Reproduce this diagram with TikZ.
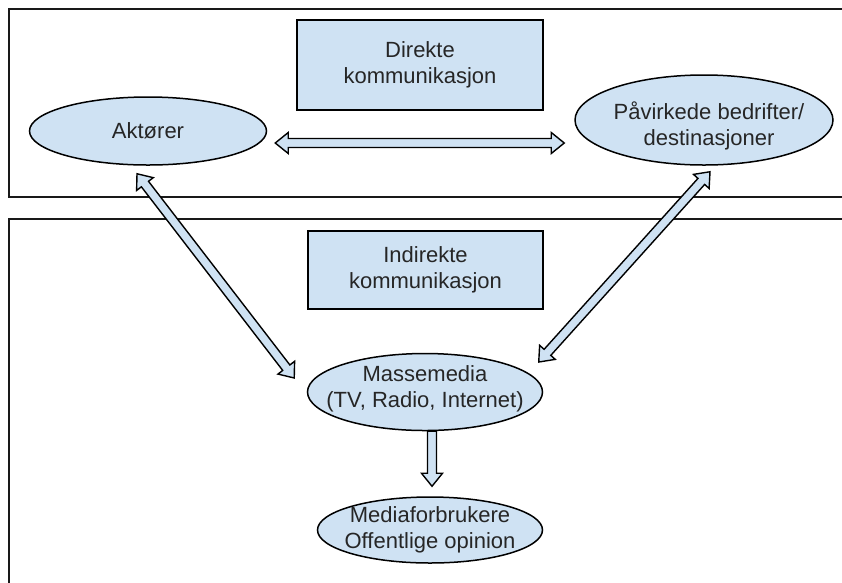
\documentclass[tikz,border=0pt]{standalone}
\usepackage{fontspec}
\setmainfont{Liberation Sans}
\usetikzlibrary{calc,shapes.geometric}
\definecolor{paleblue}{HTML}{CFE2F3}
\newcommand{\shaft}{4.5pt}
\newcommand{\headw}{10.5pt}
\newcommand{\headl}{13pt}
\tikzset{
  txt/.style={font=\fontsize{22}{26}\selectfont, text=black!85, align=center},
  box/.style={draw, line width=1.5pt, fill=paleblue, rectangle, txt, inner sep=0pt},
  oval/.style={draw, line width=1.5pt, fill=paleblue, ellipse, inner sep=0pt},
  tube/.style={draw, line width=1.4pt, fill=paleblue, line join=miter},
  frame/.style={line width=1.8pt, black!90}
}
% block arrow with two heads
\newcommand{\twoway}[2]{%
\path[tube] let \p1=(#1), \p2=(#2), \n1={atan2(\y2-\y1,\x2-\x1)}, \n2={veclen(\x2-\x1,\y2-\y1)} in
  [shift={(\x1,\y1)}, rotate=\n1]
  (0pt,0pt) -- (\headl,\headw) -- (\headl,\shaft) -- (\n2-\headl,\shaft) -- (\n2-\headl,\headw)
  -- (\n2,0pt) -- (\n2-\headl,-\headw) -- (\n2-\headl,-\shaft) -- (\headl,-\shaft) -- (\headl,-\headw) -- cycle;}
% block arrow with one head
\newcommand{\oneway}[2]{%
\path[tube] let \p1=(#1), \p2=(#2), \n1={atan2(\y2-\y1,\x2-\x1)}, \n2={veclen(\x2-\x1,\y2-\y1)} in
  [shift={(\x1,\y1)}, rotate=\n1]
  (0pt,\shaft) -- (\n2-\headl,\shaft) -- (\n2-\headl,\headw) -- (\n2,0pt)
  -- (\n2-\headl,-\headw) -- (\n2-\headl,-\shaft) -- (0pt,-\shaft) -- cycle;}

\begin{document}
\begin{tikzpicture}[x=1pt, y=-1pt]
\useasboundingbox (0,0) rectangle (842,582);
\clip (0,0) rectangle (842,582);
\fill[white] (0,0) rectangle (842,582);
%frames
\draw[frame] (850,9) -- (9,9) -- (9,197) -- (850,197);
\draw[frame] (850,219) -- (9,219) -- (9,590);
%direkte
\node[box, minimum width=246pt, minimum height=90pt] (direkte) at (420,65) {Direkte\\kommunikasjon};
\node[oval, minimum width=237pt, minimum height=68pt, label={[txt]center:Aktører}] (akt) at (148,131) {};
\node[oval, minimum width=258pt, minimum height=90pt, label={[txt, xshift=5pt, yshift=-6pt]center:Påvirkede bedrifter/\\destinasjoner}] (pav) at (704,120) {};
%indirekte
\node[box, minimum width=235pt, minimum height=78pt] (indirekte) at (425.5,270) {Indirekte\\kommunikasjon};
\node[oval, minimum width=235pt, minimum height=77pt, label={[txt, yshift=3pt]center:Massemedia\\(TV, Radio, Internet)}] (mm) at (425,392) {};
\node[oval, minimum width=225pt, minimum height=66pt, label={[txt]center:Mediaforbrukere\\Offentlige opinion}] (mf) at (430,530) {};
%arrows
\twoway{$(akt.east)+(8,12)$}{$(pav.west)+(-10,23)$}
\twoway{$(akt.south)+(-11,8)$}{$(mm.west)+(-12.5,-14)$}
\twoway{$(pav.south)+(6,6)$}{$(mm.east)+(-4.5,-30)$}
\oneway{$(mm.south)+(7,0)$}{$(mf.north)+(2,-10)$}
\end{tikzpicture}
\end{document}
